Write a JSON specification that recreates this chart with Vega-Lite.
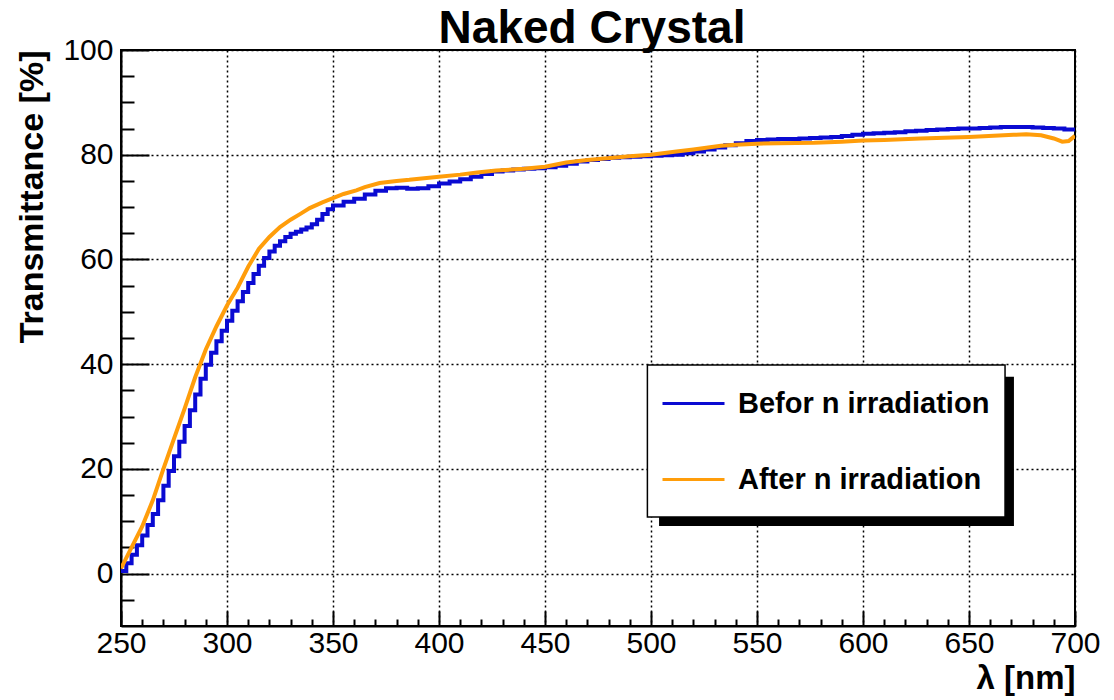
{
  "$schema": "https://vega.github.io/schema/vega-lite/v6.json",
  "width": 954,
  "height": 576,
  "autosize": "none",
  "padding": {"left": 121, "top": 50, "right": 39, "bottom": 74},
  "background": "white",
  "title": {
    "text": "Naked Crystal",
    "font": "Liberation Sans",
    "fontSize": 46,
    "fontWeight": "bold",
    "color": "black",
    "anchor": "middle",
    "offset": -18,
    "dx": -6
  },
  "datasets": {
    "before": [
      {"wavelength": 250, "transmittance": 0.5},
      {"wavelength": 252.5, "transmittance": 2.0},
      {"wavelength": 255, "transmittance": 3.6},
      {"wavelength": 257.5, "transmittance": 5.4},
      {"wavelength": 260, "transmittance": 7.3},
      {"wavelength": 262.5, "transmittance": 9.3},
      {"wavelength": 265, "transmittance": 11.4},
      {"wavelength": 267.5, "transmittance": 14.0},
      {"wavelength": 270, "transmittance": 16.8},
      {"wavelength": 272.5, "transmittance": 19.6},
      {"wavelength": 275, "transmittance": 22.4},
      {"wavelength": 277.5, "transmittance": 25.2},
      {"wavelength": 280, "transmittance": 28.2},
      {"wavelength": 282.5, "transmittance": 31.2},
      {"wavelength": 285, "transmittance": 34.2},
      {"wavelength": 287.5, "transmittance": 37.2},
      {"wavelength": 290, "transmittance": 39.9},
      {"wavelength": 292.5, "transmittance": 42.2},
      {"wavelength": 295, "transmittance": 44.4},
      {"wavelength": 297.5, "transmittance": 46.4},
      {"wavelength": 300, "transmittance": 48.3},
      {"wavelength": 302.5, "transmittance": 50.2},
      {"wavelength": 305, "transmittance": 52.0},
      {"wavelength": 307.5, "transmittance": 53.8},
      {"wavelength": 310, "transmittance": 55.5},
      {"wavelength": 312.5, "transmittance": 57.2},
      {"wavelength": 315, "transmittance": 58.8},
      {"wavelength": 317.5, "transmittance": 60.3},
      {"wavelength": 320, "transmittance": 61.5},
      {"wavelength": 322.5, "transmittance": 62.6},
      {"wavelength": 325, "transmittance": 63.5},
      {"wavelength": 327.5, "transmittance": 64.3},
      {"wavelength": 330, "transmittance": 64.9},
      {"wavelength": 332.5, "transmittance": 65.3},
      {"wavelength": 335, "transmittance": 65.7},
      {"wavelength": 337.5, "transmittance": 66.1},
      {"wavelength": 340, "transmittance": 66.7},
      {"wavelength": 342.5, "transmittance": 67.6},
      {"wavelength": 345, "transmittance": 68.7},
      {"wavelength": 347.5, "transmittance": 69.6},
      {"wavelength": 350, "transmittance": 70.3},
      {"wavelength": 355, "transmittance": 71.0},
      {"wavelength": 360, "transmittance": 71.6},
      {"wavelength": 365, "transmittance": 72.4},
      {"wavelength": 370, "transmittance": 73.1},
      {"wavelength": 375, "transmittance": 73.6},
      {"wavelength": 380, "transmittance": 73.7},
      {"wavelength": 385, "transmittance": 73.5},
      {"wavelength": 390, "transmittance": 73.6},
      {"wavelength": 395, "transmittance": 74.0},
      {"wavelength": 400, "transmittance": 74.5},
      {"wavelength": 405, "transmittance": 74.9},
      {"wavelength": 410, "transmittance": 75.3},
      {"wavelength": 415, "transmittance": 75.8},
      {"wavelength": 420, "transmittance": 76.3},
      {"wavelength": 425, "transmittance": 76.8},
      {"wavelength": 430, "transmittance": 77.0},
      {"wavelength": 435, "transmittance": 77.2},
      {"wavelength": 440, "transmittance": 77.3},
      {"wavelength": 445, "transmittance": 77.4},
      {"wavelength": 450, "transmittance": 77.6},
      {"wavelength": 455, "transmittance": 77.9},
      {"wavelength": 460, "transmittance": 78.3},
      {"wavelength": 465, "transmittance": 78.7},
      {"wavelength": 470, "transmittance": 79.0},
      {"wavelength": 475, "transmittance": 79.2},
      {"wavelength": 480, "transmittance": 79.4},
      {"wavelength": 485, "transmittance": 79.5},
      {"wavelength": 490, "transmittance": 79.6},
      {"wavelength": 495, "transmittance": 79.7},
      {"wavelength": 500, "transmittance": 79.8},
      {"wavelength": 505, "transmittance": 79.9},
      {"wavelength": 510, "transmittance": 80.0},
      {"wavelength": 515, "transmittance": 80.3},
      {"wavelength": 520, "transmittance": 80.6},
      {"wavelength": 525, "transmittance": 81.0},
      {"wavelength": 530, "transmittance": 81.4},
      {"wavelength": 535, "transmittance": 81.8},
      {"wavelength": 540, "transmittance": 82.2},
      {"wavelength": 545, "transmittance": 82.6},
      {"wavelength": 550, "transmittance": 82.8},
      {"wavelength": 555, "transmittance": 82.9},
      {"wavelength": 560, "transmittance": 83.0},
      {"wavelength": 565, "transmittance": 83.0},
      {"wavelength": 570, "transmittance": 83.1},
      {"wavelength": 575, "transmittance": 83.2},
      {"wavelength": 580, "transmittance": 83.3},
      {"wavelength": 585, "transmittance": 83.4},
      {"wavelength": 590, "transmittance": 83.6},
      {"wavelength": 595, "transmittance": 83.8},
      {"wavelength": 600, "transmittance": 84.0},
      {"wavelength": 605, "transmittance": 84.1},
      {"wavelength": 610, "transmittance": 84.2},
      {"wavelength": 615, "transmittance": 84.3},
      {"wavelength": 620, "transmittance": 84.5},
      {"wavelength": 625, "transmittance": 84.6},
      {"wavelength": 630, "transmittance": 84.7},
      {"wavelength": 635, "transmittance": 84.8},
      {"wavelength": 640, "transmittance": 84.9},
      {"wavelength": 645, "transmittance": 85.0},
      {"wavelength": 650, "transmittance": 85.0},
      {"wavelength": 655, "transmittance": 85.1},
      {"wavelength": 660, "transmittance": 85.2},
      {"wavelength": 665, "transmittance": 85.3},
      {"wavelength": 670, "transmittance": 85.3},
      {"wavelength": 675, "transmittance": 85.3},
      {"wavelength": 680, "transmittance": 85.2},
      {"wavelength": 685, "transmittance": 85.1},
      {"wavelength": 690, "transmittance": 85.0},
      {"wavelength": 695, "transmittance": 84.8},
      {"wavelength": 700, "transmittance": 84.7}
    ],
    "after": [
      {"wavelength": 250, "transmittance": 1.0},
      {"wavelength": 255, "transmittance": 5.0},
      {"wavelength": 260, "transmittance": 9.0},
      {"wavelength": 265, "transmittance": 14.0},
      {"wavelength": 270, "transmittance": 20.0},
      {"wavelength": 275, "transmittance": 25.8},
      {"wavelength": 280, "transmittance": 31.5},
      {"wavelength": 285, "transmittance": 37.5},
      {"wavelength": 290, "transmittance": 42.8},
      {"wavelength": 295, "transmittance": 47.2},
      {"wavelength": 300, "transmittance": 51.2},
      {"wavelength": 305, "transmittance": 54.6},
      {"wavelength": 310, "transmittance": 58.6},
      {"wavelength": 315, "transmittance": 62.0},
      {"wavelength": 320, "transmittance": 64.3},
      {"wavelength": 325, "transmittance": 66.2},
      {"wavelength": 330, "transmittance": 67.6},
      {"wavelength": 335, "transmittance": 68.8},
      {"wavelength": 339, "transmittance": 69.8},
      {"wavelength": 345, "transmittance": 70.9},
      {"wavelength": 350, "transmittance": 71.7},
      {"wavelength": 355, "transmittance": 72.5},
      {"wavelength": 361, "transmittance": 73.2},
      {"wavelength": 365, "transmittance": 73.8},
      {"wavelength": 372, "transmittance": 74.6},
      {"wavelength": 380, "transmittance": 75.0},
      {"wavelength": 386, "transmittance": 75.2},
      {"wavelength": 400, "transmittance": 75.8},
      {"wavelength": 410, "transmittance": 76.2},
      {"wavelength": 418, "transmittance": 76.6},
      {"wavelength": 427, "transmittance": 77.0},
      {"wavelength": 440, "transmittance": 77.3},
      {"wavelength": 450, "transmittance": 77.7},
      {"wavelength": 460, "transmittance": 78.5},
      {"wavelength": 470, "transmittance": 79.0},
      {"wavelength": 478, "transmittance": 79.3},
      {"wavelength": 490, "transmittance": 79.7},
      {"wavelength": 500, "transmittance": 80.0},
      {"wavelength": 512, "transmittance": 80.6},
      {"wavelength": 520, "transmittance": 81.0},
      {"wavelength": 533, "transmittance": 81.7},
      {"wavelength": 540, "transmittance": 81.9},
      {"wavelength": 550, "transmittance": 82.1},
      {"wavelength": 560, "transmittance": 82.2},
      {"wavelength": 577, "transmittance": 82.3},
      {"wavelength": 590, "transmittance": 82.5},
      {"wavelength": 600, "transmittance": 82.7},
      {"wavelength": 610, "transmittance": 82.8},
      {"wavelength": 627, "transmittance": 83.1},
      {"wavelength": 650, "transmittance": 83.4},
      {"wavelength": 671, "transmittance": 83.8},
      {"wavelength": 677, "transmittance": 83.9},
      {"wavelength": 684, "transmittance": 83.7},
      {"wavelength": 690, "transmittance": 83.1},
      {"wavelength": 694, "transmittance": 82.5},
      {"wavelength": 697, "transmittance": 82.6},
      {"wavelength": 700, "transmittance": 83.6}
    ]
  },
  "layer": [
    {
      "data": {"values": [{}]},
      "mark": {"type": "rect", "color": "black"},
      "encoding": {
        "x": {"datum": 503.8, "type": "quantitative", "scale": {"domain": [250, 700], "nice": false, "zero": false}},
        "x2": {"datum": 671.2},
        "y": {"datum": 37.6, "type": "quantitative", "scale": {"domain": [-10, 100], "nice": false, "zero": false}},
        "y2": {"datum": 9.1}
      }
    },
    {
      "data": {"values": [{}]},
      "mark": {"type": "rect", "fill": "white", "stroke": "black", "strokeWidth": 1.5},
      "encoding": {
        "x": {"datum": 498.3, "type": "quantitative"},
        "x2": {"datum": 667.0},
        "y": {"datum": 39.85, "type": "quantitative"},
        "y2": {"datum": 10.8}
      }
    },
    {
      "data": {"name": "before"},
      "mark": {"type": "line", "interpolate": "step-after", "strokeWidth": 4, "clip": true},
      "encoding": {
        "x": {
          "field": "wavelength",
          "type": "quantitative",
          "title": "λ [nm]",
          "axis": {
            "values": [250, 260, 270, 280, 290, 300, 310, 320, 330, 340, 350, 360, 370, 380, 390, 400, 410, 420, 430, 440, 450, 460, 470, 480, 490, 500, 510, 520, 530, 540, 550, 560, 570, 580, 590, 600, 610, 620, 630, 640, 650, 660, 670, 680, 690, 700],
            "tickCount": 200,
            "labelOverlap": false,
            "labelExpr": "datum.value % 50 === 0 ? format(datum.value, 'd') : ''",
            "tickSize": {"condition": {"test": "datum.value % 50 === 0", "value": -15}, "value": -7},
            "gridOpacity": {"condition": {"test": "datum.value % 50 === 0", "value": 1}, "value": 0},
            "labelPadding": 17,
            "titleAnchor": "end",
            "titleAlign": "right",
            "titleBaseline": "alphabetic",
            "titleX": 954,
            "titleY": 62
          }
        },
        "y": {
          "field": "transmittance",
          "type": "quantitative",
          "title": "Transmittance [%]",
          "axis": {
            "values": [-5, 0, 5, 10, 15, 20, 25, 30, 35, 40, 45, 50, 55, 60, 65, 70, 75, 80, 85, 90, 95, 100],
            "tickCount": 200,
            "labelOverlap": false,
            "labelExpr": "datum.value % 20 === 0 ? format(datum.value, 'd') : ''",
            "tickSize": {"condition": {"test": "datum.value % 20 === 0", "value": -28}, "value": -13},
            "gridOpacity": {"condition": {"test": "datum.value % 20 === 0", "value": 1}, "value": 0},
            "labelPadding": 36,
            "titleAnchor": "end",
            "titleAlign": "right",
            "titleBaseline": "alphabetic",
            "titleAngle": 270,
            "titleX": -79,
            "titleY": 0,
            "titleFontSize": 34
          }
        },
        "color": {
          "datum": "Befor n irradiation",
          "type": "nominal",
          "scale": {
            "domain": ["Befor n irradiation", "After n irradiation"],
            "range": ["#0a0ad2", "#ff9d0a"]
          },
          "legend": {
            "orient": "none",
            "legendX": 526,
            "legendY": 307,
            "title": null,
            "symbolType": "stroke",
            "symbolSize": 3844,
            "symbolStrokeWidth": 3,
            "labelFont": "Liberation Sans",
            "labelFontSize": 29,
            "labelFontWeight": "bold",
            "labelColor": "black",
            "labelOffset": 12,
            "labelLimit": 0,
            "rowPadding": 28,
            "padding": 14
          }
        }
      }
    },
    {
      "data": {"name": "after"},
      "mark": {"type": "line", "strokeWidth": 4, "clip": true},
      "encoding": {
        "x": {"field": "wavelength", "type": "quantitative"},
        "y": {"field": "transmittance", "type": "quantitative"},
        "color": {"datum": "After n irradiation", "type": "nominal"}
      }
    }
  ],
  "config": {
    "font": "Liberation Sans",
    "view": {"stroke": "black", "strokeWidth": 2},
    "axis": {
      "domainColor": "black",
      "domainWidth": 2,
      "tickColor": "black",
      "tickWidth": 2,
      "grid": true,
      "gridColor": "black",
      "gridWidth": 1.5,
      "gridDash": [2, 3],
      "labelFont": "Liberation Sans",
      "labelFontSize": 30,
      "labelColor": "black",
      "labelOverlap": false,
      "labelFlush": false,
      "labelBound": false,
      "titleFont": "Liberation Sans",
      "titleFontSize": 33,
      "titleFontWeight": "bold",
      "titleColor": "black"
    }
  }
}
